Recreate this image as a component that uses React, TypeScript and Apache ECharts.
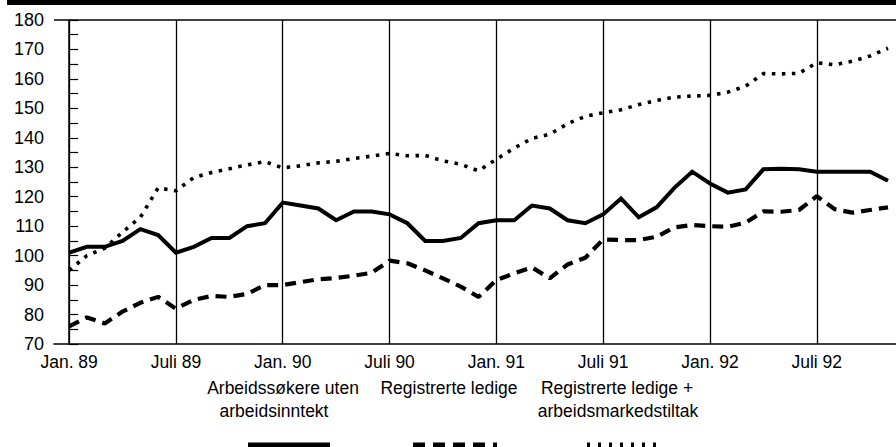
import { useEffect, useRef } from 'react';
import * as echarts from 'echarts';

const tickLabels = ['Jan. 89', 'Juli 89', 'Jan. 90', 'Juli 90', 'Jan. 91', 'Juli 91', 'Jan. 92', 'Juli 92'];
const tickMonths = [0, 6, 12, 18, 24, 30, 36, 42];
const seriesNames = [
  'Arbeidssøkere uten arbeidsinntekt',
  'Registrerte ledige',
  'Registrerte ledige + arbeidsmarkedstiltak',
];

// Monthly index values, Jan. 89 = month 0
const arbeidssokere = [
  101, 103, 103, 105, 109, 107, 101, 103, 106, 106, 110, 111,
  118, 117, 116, 112, 115, 115, 114, 111, 105, 105, 106, 111,
  112, 112, 117, 116, 112, 111, 114, 119.4, 113, 116.4, 123, 128.5,
  124.5, 121.4, 122.5, 129.3, 129.5, 129.3, 128.5, 128.5, 128.5, 128.5, 125.4,
];
const registrerte = [
  76, 79, 77, 81, 84, 86, 82, 85, 86.3, 86, 87, 90,
  90, 91, 92, 92.4, 93.2, 94.2, 98.3, 97.4, 95, 92.3, 89.5, 86,
  91.7, 94, 96, 92.3, 97, 99.3, 105.5, 105.3, 105.3, 106.4, 109.6, 110.4,
  110, 109.8, 111.2, 115, 114.9, 115.5, 120.2, 115.8, 114.6, 115.5, 116.4,
];
const medTiltak = [
  95, 100, 102.5, 108, 113, 123, 122, 126.5, 128.2, 129.5, 130.8, 131.9,
  129.8, 130.5, 131.5, 132, 133, 133.8, 134.7, 133.9, 134, 132.2, 131, 128.8,
  132.7, 136.5, 139.8, 141.2, 144.8, 147.3, 148.5, 149.5, 151.3, 152.7, 153.8, 154.2,
  154.4, 155.5, 157.5, 161.8, 161.7, 161.9, 165.5, 164.8, 166, 167.8, 170.4,
];

const FONT = '"Liberation Sans", Arial, Helvetica, sans-serif';

export default function App() {
  const ref = useRef<HTMLDivElement>(null);

  useEffect(() => {
    if (!ref.current) return;
    const chart = echarts.init(ref.current, undefined, { renderer: 'svg' });
    const toPairs = (arr: number[]) => arr.map((v, i) => [i, v]);

    const legendText = (text: string, x: number, y: number) => ({
      type: 'text',
      x,
      y,
      style: {
        text,
        fill: '#000',
        font: `17.5px ${FONT}`,
        align: 'center',
        verticalAlign: 'middle',
      },
    });

    chart.setOption({
      animation: false,
      backgroundColor: '#fff',
      grid: { left: 54, right: 0, top: 20, bottom: 103, containLabel: false },
      xAxis: {
        type: 'value',
        min: -0.85,
        max: 46.45,
        axisLine: { show: true, lineStyle: { color: '#000', width: 1.5 } },
        axisTick: { show: false },
        splitLine: { show: false },
        axisLabel: {
          customValues: tickMonths,
          color: '#000',
          fontSize: 17.5,
          fontFamily: FONT,
          margin: 9,
          formatter: (v: number) => {
            const idx = tickMonths.indexOf(Math.round(v));
            return idx >= 0 ? tickLabels[idx] : '';
          },
        },
      },
      yAxis: {
        type: 'value',
        min: 70,
        max: 180,
        interval: 5,
        axisLine: { show: true, lineStyle: { color: '#000', width: 1.5 } },
        axisTick: { show: true, inside: true, length: 9, lineStyle: { color: '#000', width: 1.2 } },
        splitLine: { show: false },
        axisLabel: {
          color: '#000',
          fontSize: 18,
          fontFamily: FONT,
          margin: 10,
          formatter: (v: number) => (v % 10 === 0 ? String(v) : ''),
        },
      },
      series: [
        {
          name: seriesNames[0],
          type: 'line',
          data: toPairs(arbeidssokere),
          symbol: 'none',
          lineStyle: { color: '#000', width: 4, type: 'solid', join: 'miter' },
          markLine: {
            silent: true,
            symbol: 'none',
            label: { show: false },
            lineStyle: { color: '#000', width: 1.3, type: 'solid' },
            data: tickMonths.map((m) => ({ xAxis: m })),
          },
          z: 3,
        },
        {
          name: seriesNames[1],
          type: 'line',
          data: toPairs(registrerte),
          symbol: 'none',
          lineStyle: { color: '#000', width: 4.2, type: [11, 7] },
          z: 3,
        },
        {
          name: seriesNames[2],
          type: 'line',
          data: toPairs(medTiltak),
          symbol: 'none',
          lineStyle: { color: '#000', width: 3.6, type: [3.5, 6.5] },
          z: 3,
        },
      ],
      graphic: [
        { type: 'rect', shape: { x: 7, y: 0, width: 889, height: 5 }, style: { fill: '#000' } },
        { type: 'line', shape: { x1: 54, y1: 20, x2: 896, y2: 20 }, style: { stroke: '#000', lineWidth: 1.3 } },
        legendText('Arbeidssøkere uten', 283, 388),
        legendText('arbeidsinntekt', 274, 411),
        legendText('Registrerte ledige', 449, 388),
        legendText('Registrerte ledige +', 617, 388),
        legendText('arbeidsmarkedstiltak', 618, 411),
        {
          type: 'line',
          shape: { x1: 248, y1: 445, x2: 330, y2: 445 },
          style: { stroke: '#000', lineWidth: 5 },
        },
        {
          type: 'line',
          shape: { x1: 413, y1: 445, x2: 497, y2: 445 },
          style: { stroke: '#000', lineWidth: 5, lineDash: [12, 8] },
        },
        {
          type: 'line',
          shape: { x1: 587, y1: 445, x2: 664, y2: 445 },
          style: { stroke: '#000', lineWidth: 5, lineDash: [3, 8] },
        },
      ],
    });

    return () => chart.dispose();
  }, []);

  return (
    <div
      ref={ref}
      style={{ position: 'absolute', left: 0, top: 0, width: 896, height: 447 }}
    />
  );
}
